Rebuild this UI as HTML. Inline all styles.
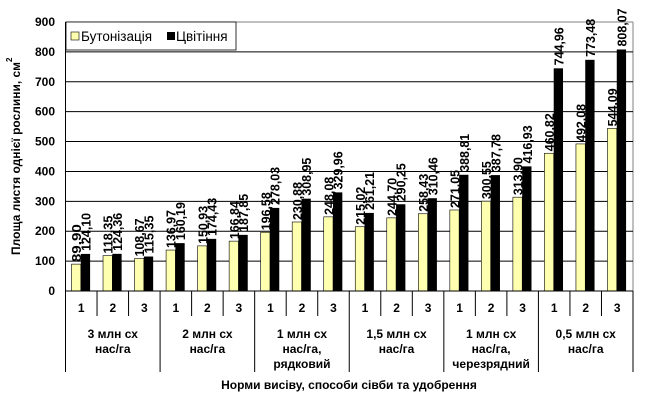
<!DOCTYPE html>
<html><head><meta charset="utf-8"><style>
body{margin:0;background:#fff}
svg{display:block}
text{font-family:"Liberation Sans",Arial,sans-serif;font-weight:bold;font-size:12px;fill:#000}
</style></head><body>
<svg width="647" height="400" viewBox="0 0 647 400" xmlns="http://www.w3.org/2000/svg">
<rect width="647" height="400" fill="#fff"/>
<g id="g"></g>
</svg>
<script>
const svg=document.getElementById('g');const NS='http://www.w3.org/2000/svg';
function el(t,a,txt){const e=document.createElementNS(NS,t);for(const k in a)e.setAttribute(k,a[k]);if(txt!=null)e.textContent=txt;svg.appendChild(e);return e;}
const L=65.5,R=633,T=22,B=291;const cw=(R-L)/18;const y=v=>B-v*(B-T)/900;
el('line',{x1:L,y1:T,x2:R,y2:T,stroke:'#808080'});
el('line',{x1:R,y1:T,x2:R,y2:B,stroke:'#808080'});
for(let v=100;v<=800;v+=100)el('line',{x1:L,y1:y(v),x2:R,y2:y(v),stroke:'#000'});
for(let v=0;v<=900;v+=100)el('text',{x:55,y:y(v)+4,'text-anchor':'end'},String(v));
const a=[89.90,118.35,108.67,136.97,150.93,166.84,196.58,230.88,248.08,215.02,244.70,258.43,271.05,300.55,313.90,460.82,492.08,544.09];
const b=[124.10,124.36,115.35,160.19,174.43,187.85,278.03,308.95,329.96,261.21,290.25,310.46,388.81,387.78,416.93,744.96,773.48,808.07];
const f=v=>v.toFixed(2).replace('.',',');
for(let i=0;i<18;i++){const x0=L+i*cw;const bw=9.3;const xa=x0+6,xb=xa+bw;
el('rect',{x:xa,y:y(a[i]),width:bw,height:B-y(a[i]),fill:'#ffffb0',stroke:'#000','stroke-width':0.6});
el('rect',{x:xb,y:y(b[i]),width:bw,height:B-y(b[i]),fill:'#000'});
el('text',{x:0,y:0,textLength:38,lengthAdjust:'spacingAndGlyphs',style:'font-size:13px',transform:`translate(${xa+bw/2+5},${y(a[i])-2}) rotate(-90)`},f(a[i]));
el('text',{x:0,y:0,textLength:38,lengthAdjust:'spacingAndGlyphs',style:'font-size:13px',transform:`translate(${xb+bw/2+5},${y(b[i])-3}) rotate(-90)`},f(b[i]));
el('text',{x:x0+cw/2,y:312,'text-anchor':'middle'},String(i%3+1));
el('line',{x1:x0+cw,y1:B,x2:x0+cw,y2:(i%3==2)?372:316,stroke:'#000'});
}
el('line',{x1:L,y1:T,x2:L,y2:372,stroke:'#000'});
el('line',{x1:L,y1:B,x2:R,y2:B,stroke:'#000'});
const g=[["3 млн сх","нас/га"],["2 млн сх","нас/га"],["1 млн сх","нас/га,","рядковий"],["1,5 млн сх","нас/га"],["1 млн сх","нас/га,","черезрядний"],["0,5 млн сх","нас/га"]];
g.forEach((ls,k)=>{const cx=L+(k*3+1.5)*cw;ls.forEach((s,j)=>el('text',{x:cx,y:338+j*15,'text-anchor':'middle'},s));});
el('text',{x:349,y:389,'text-anchor':'middle'},'Норми висіву, способи сівби та удобрення');
el('text',{x:0,y:0,textLength:193,lengthAdjust:'spacingAndGlyphs',transform:'translate(20,255) rotate(-90)'},'Площа листя однієї рослини, см');
el('text',{x:0,y:0,style:'font-size:8px',transform:'translate(12,62) rotate(-90)'},'2');
el('rect',{x:66,y:22,width:170,height:28,fill:'#fff',stroke:'#000','stroke-width':0.8});
el('rect',{x:71,y:32,width:8,height:8,fill:'#ffffb0',stroke:'#000','stroke-width':0.6});
el('text',{x:81,y:41,style:'font-weight:normal;font-size:13.5px'},'Бутонізація');
el('rect',{x:167,y:32,width:8,height:8,fill:'#000'});
el('text',{x:176,y:41,style:'font-weight:normal;font-size:13.5px'},'Цвітіння');
</script>
</body></html>
